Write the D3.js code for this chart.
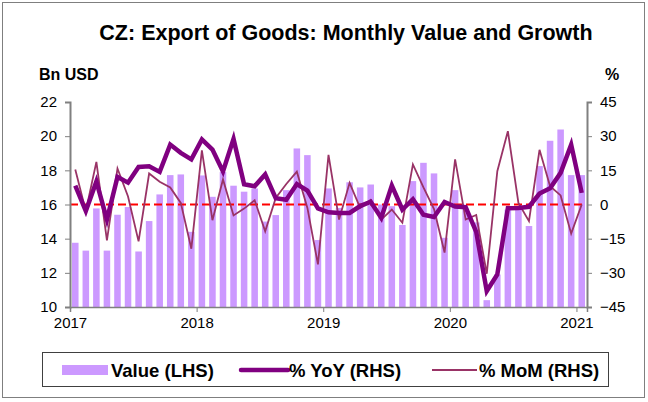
<!DOCTYPE html>
<html lang="en">
<head>
<meta charset="utf-8">
<title>CZ: Export of Goods</title>
<script src="https://cdn.jsdelivr.net/npm/d3@7"></script>
<style>
  html, body { margin: 0; padding: 0; background: #fff; }
  svg { font-family: "Liberation Sans", Arial, sans-serif; display: block; }
  .axis path, .axis line { stroke: #808080; }
  .axis text { font-size: 15px; fill: #000; }
  .legend text { font-weight: bold; font-size: 18.5px; }
</style>
</head>
<body>
<svg id="chart" width="648" height="402"></svg>
<script>
// months Jan 2017 .. Jan 2021
var months = d3.range(49).map(function(i) { return new Date(2017, i, 1); });
var yearTicks = [0, 12, 24, 36, 48];
var yearLabels = ["2017", "2018", "2019", "2020", "2021"];

// export value, bn USD (LHS)
var value = [13.76, 13.3, 15.77, 13.3, 15.4, 15.85, 13.25, 15.03, 16.59, 17.72, 17.76, 14.4,
             17.7, 16.45, 17.9, 17.1, 16.75, 16.94, 15.0, 15.38, 16.84, 19.28, 18.89, 13.92,
             16.94, 15.8, 17.3, 17.0, 17.17, 16.0, 15.9, 14.8, 17.37, 18.44, 17.82, 14.05,
             16.84, 15.75, 14.95, 10.4, 11.9, 15.7, 15.8, 14.74, 18.25, 19.73, 20.39, 17.72,
             17.72];
// % YoY (RHS)
var yoy = [8.3, -2.9, 10.1, -6.6, 12.1, 9.6, 16.5, 16.8, 14.3, 26.3, 22.7, 19.8,
           28.6, 24.1, 14.5, 28.8, 8.9, 8.0, 13.2, 2.8, 2.1, 9.0, 6.1, -1.7,
           -3.4, -3.7, -3.7, -0.7, 1.2, -5.9, 8.3, -2.2, 2.3, -4.5, -5.5, 1.1,
           -0.9, -1.2, -12, -38, -30.7, -1.6, -1.5, -1.0, 4.8, 7.1, 13.9, 26.3,
           5.1];
// % MoM (RHS)
var mom = [15.4, -2.9, 18.7, -15.7, 15.8, 3.5, -16.2, 13.6, 10.0, 7.5, 0.7, -19.4,
           23.8, -6.9, 11, -4.8, -1.8, 1.9, -11.8, 2.9, 9.0, 14.4, -1.5, -26.3,
           21.8, -6.6, 9.5, -1.5, 2.0, -6.6, -2.2, -8, 17.6, 7.5, -2, -21.1,
           19.8, -6.6, -4.6, -30.4, 14.6, 32.2, 0.7, -7.3, 24.0, 8.0, 4.0, -12.8,
           0.0];

var leftTicks = [10, 12, 14, 16, 18, 20, 22];
var rightTicks = [-45, -30, -15, 0, 15, 30, 45];

var svg = d3.select("#chart");
var x0 = 70, x1 = 587, yTop = 102, yBot = 307;

var xLin = d3.scaleLinear().domain([0, 49]).range([x0, x1]);
var xBand = d3.scaleBand().domain(d3.range(49)).range([x0, x1]).paddingInner(0.38).paddingOuter(0.19);
var yL = d3.scaleLinear().domain([10, 22]).range([yBot, yTop]);
var yR = d3.scaleLinear().domain([-45, 45]).range([yBot, yTop]);

// frame
svg.append("rect").attr("x", 2.5).attr("y", 2.5).attr("width", 642).attr("height", 395)
  .attr("fill", "none").attr("stroke", "#7f7f7f").attr("stroke-width", 1);

svg.append("text").attr("x", 346).attr("y", 40).attr("text-anchor", "middle")
  .style("font-weight", "bold").style("font-size", "21.5px")
  .text("CZ: Export of Goods: Monthly Value and Growth");
svg.append("text").attr("x", 39).attr("y", 80).style("font-weight", "bold").style("font-size", "16px").text("Bn USD");
svg.append("text").attr("x", 605).attr("y", 80).style("font-weight", "bold").style("font-size", "16px").text("%");

// bars
svg.append("g").selectAll("rect").data(value).enter().append("rect")
  .attr("x", function(d, i) { return xBand(i); })
  .attr("width", xBand.bandwidth())
  .attr("y", function(d) { return yL(d); })
  .attr("height", function(d) { return yBot - yL(d); })
  .attr("fill", "#cc99ff");

// zero line
svg.append("line").attr("x1", x0).attr("x2", 584).attr("y1", yR(0)).attr("y2", yR(0))
  .attr("stroke", "#ff0000").attr("stroke-width", 2).attr("stroke-dasharray", "8,4");

var cx = function(d, i) { return xLin(i + 0.5); };
var line = d3.line().x(cx).y(function(d) { return yR(d); });

svg.append("path").datum(mom).attr("d", line).attr("fill", "none")
  .attr("stroke", "#993366").attr("stroke-width", 1.8);
svg.append("path").datum(yoy).attr("d", line).attr("fill", "none")
  .attr("stroke", "#800080").attr("stroke-width", 4.5).attr("stroke-linejoin", "miter");

// axes
svg.append("g").attr("class", "axis").attr("transform", "translate(" + x0 + ",0)")
  .call(d3.axisLeft(yL).tickValues(leftTicks).tickSize(5).tickPadding(8).tickFormat(d3.format("d")))
  .call(function(g) { g.select(".domain").attr("stroke-width", 2); });
svg.append("g").attr("class", "axis").attr("transform", "translate(" + x1 + ",0)")
  .call(d3.axisRight(yR).tickValues(rightTicks).tickSize(5).tickPadding(8).tickFormat(d3.format("d")))
  .call(function(g) { g.select(".domain").attr("stroke-width", 2); });
svg.append("g").attr("class", "axis").attr("transform", "translate(0," + yBot + ")")
  .call(d3.axisBottom(xLin).tickValues(yearTicks).tickSize(5).tickPadding(5)
    .tickFormat(function(d, i) { return yearLabels[i]; }))
  .call(function(g) { g.select(".domain").attr("stroke-width", 1.5); });
svg.selectAll(".axis .domain").attr("stroke", "#595959");

// legend
var lg = svg.append("g").attr("class", "legend");
lg.append("rect").attr("x", 42.5).attr("y", 352.5).attr("width", 566).attr("height", 34)
  .attr("fill", "#fff").attr("stroke", "#404040");
var ly = 370;
lg.append("rect").attr("x", 62).attr("y", ly - 5).attr("width", 46).attr("height", 10).attr("fill", "#cc99ff");
lg.append("text").attr("x", 111).attr("y", ly + 6.5).text("Value (LHS)");
lg.append("line").attr("x1", 241).attr("x2", 288).attr("y1", ly).attr("y2", ly)
  .attr("stroke", "#800080").attr("stroke-width", 4.5).attr("stroke-linecap", "round");
lg.append("text").attr("x", 289).attr("y", ly + 6.5).text("% YoY (RHS)");
lg.append("line").attr("x1", 432).attr("x2", 477).attr("y1", ly).attr("y2", ly)
  .attr("stroke", "#993366").attr("stroke-width", 1.8);
lg.append("text").attr("x", 479).attr("y", ly + 6.5).text("% MoM (RHS)");
</script>
</body>
</html>
